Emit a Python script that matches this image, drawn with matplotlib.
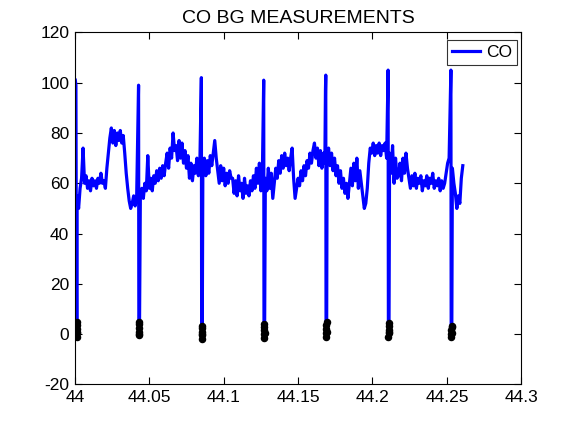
import numpy as np
import matplotlib
matplotlib.use("Agg")
import matplotlib.pyplot as plt
from matplotlib.ticker import FuncFormatter

plt.rcParams['font.family'] = ['Liberation Sans', 'DejaVu Sans']
plt.rcParams['axes.unicode_minus'] = False

# ---- data ----
title = "CO BG MEASUREMENTS"
series_name = "CO"

# calibration events (span check up to ~100, then zero check)
cal_times = [44.0011, 44.0430, 44.0852, 44.1271, 44.1688, 44.2107, 44.2529]
span_peaks = [101, 99, 102, 101, 103, 105, 105]
zero_readings = [
    [-1.0, 0.5, 2.0, 3.5, 5.0, 1.0],
    [-0.5, 1.0, 2.5, 4.0, 5.0, 0.0],
    [-2.0, -0.5, 1.0, 2.5, 3.2, 0.0],
    [-1.5, 0.0, 1.5, 3.0, 4.0, 0.5],
    [-1.0, 0.5, 2.0, 3.5, 5.0, 1.0],
    [-1.2, 0.3, 1.8, 3.3, 4.6, 1.0],
    [-1.2, 0.2, 1.5, 2.8, 3.2, 0.5],
]

# background readings between calibrations (sampled every 0.001)
seg_starts = [44.0015, 44.0440, 44.0860, 44.1280, 44.1695, 44.2115, 44.2537]
seg_step = 0.001
seg0 = [55, 50, 58, 62, 74, 60, 63, 58, 61, 57, 62, 59, 61, 58, 62, 60, 64,
        60, 61, 58, 66, 72, 78, 82, 76, 81, 75, 80, 77, 81, 76, 79, 72, 64,
        58, 53, 50, 52, 55, 51, 54]
seg1 = [55, 58, 54, 60, 57, 71, 58, 62, 57, 63, 60, 65, 61, 66, 62, 67, 63,
        68, 72, 66, 74, 70, 80, 73, 75, 69, 77, 70, 76, 68, 73, 66, 71, 62, 68,
        61, 67, 64, 70, 63, 68]
seg2 = [66, 70, 63, 69, 64, 71, 67, 72, 77, 70, 65, 60, 67, 61, 66, 59, 64,
        60, 65, 62, 62, 56, 61, 55, 63, 57, 60, 54, 62, 56, 59, 55, 61, 57, 63,
        58, 66, 60, 68, 57, 64]
seg3 = [62, 57, 66, 58, 64, 54, 60, 66, 62, 69, 64, 71, 66, 72, 67, 70, 65,
        70, 74, 62, 54, 58, 62, 59, 65, 61, 67, 63, 69, 66, 72, 68, 73, 76, 70,
        74, 67, 73, 66, 72, 68]
seg4 = [70, 74, 67, 72, 65, 70, 63, 67, 60, 65, 58, 62, 56, 60, 54, 60, 66,
        59, 68, 61, 70, 58, 65, 60, 55, 50, 52, 58, 68, 74, 72, 76, 71, 75, 72,
        76, 71, 75, 73, 76, 70]
seg5 = [72, 64, 75, 60, 70, 62, 63, 68, 61, 70, 64, 72, 66, 62, 58, 63, 59,
        64, 58, 62, 60, 63, 57, 61, 59, 63, 58, 62, 60, 64, 58, 61, 59, 62, 57,
        61, 58, 60, 64, 68, 70]
seg6 = [66, 60, 56, 50, 55, 52, 62, 67]
segments = [seg0, seg1, seg2, seg3, seg4, seg5, seg6]

# ---- assemble the CO time series ----
t_all, v_all = [], []
zt_all, zv_all = [], []
for k, tc in enumerate(cal_times):
    pk = span_peaks[k]
    z = zero_readings[k]
    if k > 0:
        t_all += [tc - 0.0004, tc - 0.0002]
        v_all += [pk - 6, pk]
    else:
        t_all += [tc - 0.0008, tc - 0.0004]
        v_all += [pk, pk - 2]
    for j, zv in enumerate(z):
        tz = tc + 0.00008 * j
        t_all.append(tz)
        v_all.append(zv)
        zt_all.append(tz)
        zv_all.append(zv)
    seg = segments[k]
    for i, val in enumerate(seg):
        t_all.append(seg_starts[k] + seg_step * i)
        v_all.append(val)

fig = plt.figure(figsize=(5.76, 4.32), dpi=100)
ax = fig.add_axes([0.13, 0.11, 0.775, 0.815])
ax.plot(t_all, v_all, color=(0, 0, 1), lw=2.3, label=series_name)
ax.plot(zt_all, zv_all, 'o', color='k', ms=4.4, mec='k', label='_nolegend_')

ax.set_xlim(44.0, 44.3)
ax.set_ylim(-20, 120)
ax.set_xticks([44.0, 44.05, 44.1, 44.15, 44.2, 44.25, 44.3])
ax.set_yticks(list(range(-20, 121, 20)))
ax.xaxis.set_major_formatter(FuncFormatter(lambda v, p: ('%.2f' % v).rstrip('0').rstrip('.')))
ax.tick_params(direction='in', top=True, right=True, length=5, width=0.8,
               labelsize=12.5, pad=4)
for s in ax.spines.values():
    s.set_linewidth(0.8)
ax.set_title(title, fontsize=14, pad=7)

leg = ax.legend(loc='upper right', bbox_to_anchor=(0.991, 0.979),
                fontsize=12.5, frameon=True, fancybox=False,
                handlelength=1.6, borderpad=0.3, handletextpad=0.35,
                borderaxespad=0.0)
leg.get_frame().set_edgecolor('k')
leg.get_frame().set_linewidth(0.8)

fig.savefig('out.png', dpi=100)
